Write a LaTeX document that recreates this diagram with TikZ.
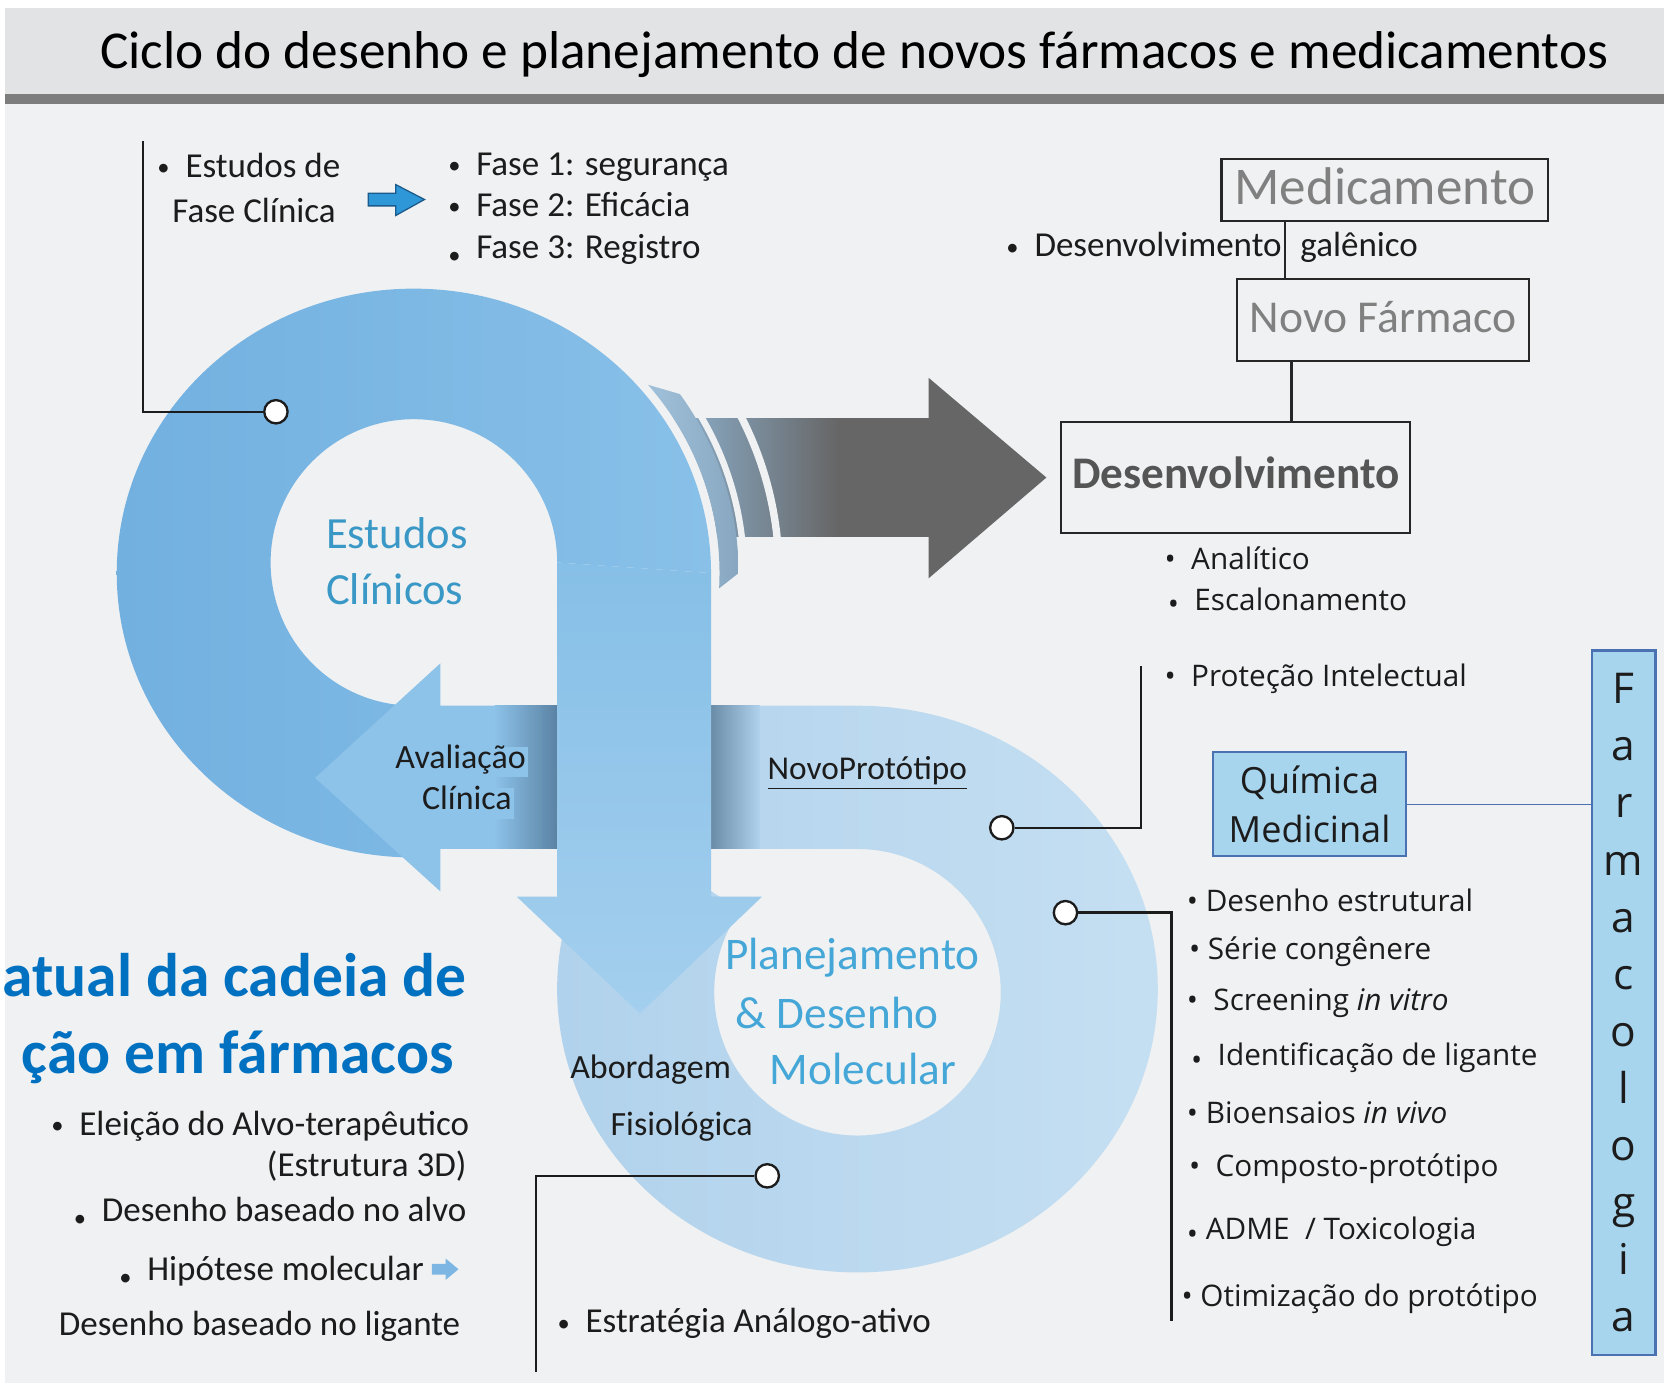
\documentclass[tikz,border=0pt]{standalone}
\usepackage{fontspec}
\setmainfont{Carlito}
\newfontfamily\tah{Open Sans}
\usetikzlibrary{calc}
\definecolor{bgc}{HTML}{F0F1F2}
\definecolor{bandc}{HTML}{E2E3E5}
\definecolor{bandl}{HTML}{7D7D7D}
\definecolor{ringAL}{HTML}{72B0E0}
\definecolor{ringAR}{HTML}{88C0E8}
\definecolor{shaftT}{HTML}{86BFE7}
\definecolor{shaftB}{HTML}{A4CFEE}
\definecolor{arrL}{HTML}{8DC2E9}
\definecolor{shadL}{HTML}{5A82A3}
\definecolor{ringBL}{HTML}{B1D2EC}
\definecolor{ringBR}{HTML}{C5DFF2}
\definecolor{shadR}{HTML}{6B8CA7}
\definecolor{stripeL}{HTML}{90B6D5}
\definecolor{darkc}{HTML}{666666}
\definecolor{estc}{HTML}{3A98C6}
\definecolor{planc}{HTML}{45A7D7}
\definecolor{bigblue}{HTML}{0070C0}
\definecolor{txtc}{HTML}{1C1C1C}
\definecolor{grayt}{HTML}{808080}
\definecolor{devt}{HTML}{555555}
\definecolor{qfill}{HTML}{A8D5EE}
\definecolor{qedge}{HTML}{4A72B2}
\definecolor{smallA}{HTML}{2E97D8}
\definecolor{smallE}{HTML}{1B5A8A}
\definecolor{smallB}{HTML}{7DB6E3}
\newcommand\fsz[2]{\fontsize{#1}{#2}\selectfont}
\newcommand\bu{\raisebox{0.1ex}{\scalebox{0.7}{•}}}
\newcommand\lb{\raisebox{-0.3ex}{\scalebox{0.7}{•}}}
\newcommand\lbt{\raisebox{-0.3ex}{•}}
\tikzset{
 lbl/.style={inner sep=0pt, text=txtc, text height=1.5ex, text depth=0.25ex},
 cal/.style={lbl, font=\fsz{16.5}{20}, yshift=-2.5pt},
 tahl/.style={lbl, font=\tah\fsz{14}{17}, yshift=-2.5pt},
 conn/.style={draw=txtc, line width=1.1pt},
 dot/.style={circle, draw=txtc, line width=1.1pt, fill=white, minimum size=11pt, inner sep=0pt},
 boxk/.style={draw=black!85, line width=1pt, inner sep=0pt},
 qbox/.style={draw=qedge, line width=1pt, fill=qfill, inner sep=0pt},
}
\begin{document}
\begin{tikzpicture}[x=0.5pt,y=-0.5pt]
\useasboundingbox (0,0) rectangle (1568,1310);
\clip (0,0) rectangle (1568,1310);
\fill[white] (0,0) rectangle (1568,1310);
\fill[bgc] (5,8) rectangle (1568,1303);
\fill[bandc] (5,8) rectangle (1568,89);
\fill[bandl] (5,89) rectangle (1568,98);
\node[lbl, font=\fsz{25.1}{30}, text=black, yshift=-5pt] (title) at (805,49) {Ciclo do desenho e planejamento de novos fármacos e medicamentos};

% dark arrow towards Desenvolvimento
\begin{scope}
\clip (600,394) rectangle (880,506);
\shade[left color=stripeL, right color=darkc] (620,394) rectangle (790,506);
\fill[darkc] (789,394) rectangle (880,506);
\fill[bgc] (390,540) ellipse[x radius=288, y radius=276];
\draw[bgc, line width=3pt] (390,540) ellipse[x radius=311, y radius=299];
\draw[bgc, line width=3.5pt] (390,540) ellipse[x radius=344, y radius=332];
\end{scope}
\shade[left color=stripeL!85!white, right color=stripeL!80!darkc] ($(390,540)+(-40:288 and 276)$) arc[start angle=-40, end angle=3, x radius=288, y radius=276] -- ($(390,540)+(0:306 and 294)$) arc[start angle=0, end angle=-35, x radius=306, y radius=294] -- cycle;
\fill[darkc] (875,356) -- (986,450) -- (875,545) -- cycle;

% lower ring with NovoPrototipo band
\shade[left color=ringBL, right color=ringBR] (670,665) -- (808,665) arc[start angle=270, end angle=575, x radius=283, y radius=267] -- ($(808,935)+(575:135)$) arc[start angle=575, end angle=270, radius=135] -- (670,800) -- cycle;
\shade[left color=shadR, right color=ringBL] (670,665) rectangle (716,800);

% upper ring
\shade[left color=ringAL, right color=ringAR] (390,808) arc[start angle=90, end angle=360, x radius=280, y radius=268] -- (525,530) arc[start angle=360, end angle=90, radius=135] -- cycle;

% left arrow
\fill[arrL] (525,665) -- (415,665) -- (415,625) -- (297,733) -- (415,840) -- (415,800) -- (525,800) -- cycle;
\shade[left color=arrL, right color=shadL] (466,665) rectangle (525,800);

% down arrow
\shade[top color=shaftT, bottom color=shaftB] (525,530) -- (670,540) -- (670,845) -- (718,845) -- (603,955) -- (487,845) -- (525,845) -- cycle;

% top-left texts
\node[cal, anchor=west] (et1) at (148,156) {\bu\ \ Estudos de};
\node[cal, anchor=west] (et2) at (162,199) {Fase Clínica};
\draw[fill=smallA, draw=smallE, line width=0.6pt] (347,182) -- (373,182) -- (373,174) -- (400,188) -- (373,203) -- (373,194) -- (347,194) -- cycle;
\node[cal, anchor=west] (fa1) at (422,154) {\bu\ \ Fase 1: segurança};
\node[cal, anchor=west] (fa2) at (422,193) {\bu\ \ Fase 2: Eficácia};
\node[cal, anchor=west] (fa3) at (422,233) {\lb\ \ Fase 3: Registro};

% top-right boxes
\node[boxk, minimum width=154pt, minimum height=29pt, text depth=4pt, text=grayt, font=\fsz{25}{30}] (med) at (1305,179) {Medicamento};
\node[boxk, minimum width=137.5pt, minimum height=38.5pt, text depth=3pt, text=grayt, font=\fsz{21.5}{26}] (nf) at (1303.5,301.5) {Novo Fármaco};
\node[boxk, minimum width=164.5pt, minimum height=52pt, text depth=5pt, text=devt, font=\bfseries\fsz{21.3}{26}] (dev) at (1164.5,450) {Desenvolvimento};
\coordinate (m1) at ([xshift=30.5pt]med.south west);
\draw[line width=1pt, draw=black!85] (m1) -- (m1 |- nf.north);
\coordinate (n1) at ([xshift=26pt]nf.south west);
\draw[line width=1pt, draw=black!85] (n1) -- (n1 |- dev.north);
\node[cal, anchor=west] (dg1) at (948,231) {\bu\ \ Desenvolvimento};
\node[cal, anchor=west] (dg2) at (1225,231) {galênico};
\node[tahl, anchor=west] (an1) at (1097,526) {•\ \ Analítico};
\node[tahl, anchor=west] (an2) at (1100,564) {\lbt\ \ Escalonamento};

% ring texts
\node[lbl, anchor=west, font=\fsz{21}{25}, text=estc, yshift=-3.5pt] (es1) at (307,504) {Estudos};
\node[lbl, anchor=west, font=\fsz{21}{25}, text=estc, yshift=-3.5pt] (es2) at (307,557) {Clínicos};
\node[lbl, font=\fsz{16}{19}, fill=arrL, inner xsep=1pt, inner ysep=3pt, yshift=-2.5pt] (av1) at (434,713) {Avaliação};
\node[lbl, font=\fsz{16}{19}, fill=arrL, inner xsep=1pt, inner ysep=3pt, yshift=-2.5pt] (av2) at (440,752) {Clínica};
\node[lbl, anchor=west, font=\fsz{15.7}{19}, yshift=-2.5pt] (np) at (723,724) {\underline{NovoProtótipo}};
\node[lbl, anchor=west, font=\fsz{21.3}{25}, text=planc, yshift=-4pt] (pl1) at (683,900) {Planejamento};
\node[lbl, anchor=west, font=\fsz{21.3}{25}, text=planc, yshift=-4pt] (pl2) at (693,955) {\& Desenho};
\node[lbl, anchor=west, font=\fsz{21.3}{25}, text=planc, yshift=-4pt] (pl3) at (725,1008) {Molecular};
\node[lbl, anchor=west, font=\fsz{16}{19}, yshift=-2.5pt] (ab1) at (537,1005) {Abordagem};
\node[lbl, anchor=west, font=\fsz{16}{19}, yshift=-2.5pt] (ab2) at (575,1059) {Fisiológica};

% connectors
\node[dot] (d1) at (260,388) {};
\coordinate (c1) at (135,133);
\draw[conn] (c1) |- (d1);
\node[dot] (d2) at (944,780) {};
\coordinate (c2) at (1075,628);
\draw[conn] (d2) -| (c2);
\node[dot] (d3) at (1004,860) {};
\coordinate (c3) at (1104,1245);
\draw[conn] (d3) -| (c3);
\node[dot] (d4) at (723,1108) {};
\coordinate (c4) at (505,1293);
\draw[conn] (d4) -| (c4);

% right lists
\node[tahl, anchor=west] (pi) at (1097,636) {•\ \ Proteção Intelectual};
\node[qbox, minimum width=91pt, minimum height=49pt, align=center, font=\tah\fsz{17}{23}, text=txtc] (qm) at (1234,758) {Química\\Medicinal};
\node[qbox, minimum width=30pt, minimum height=332pt, align=center, font=\tah\fsz{20}{26.9}, text=txtc] (farm) at (1530,945) {F\\a\\r\\m\\a\\c\\o\\l\\o\\g\\i\\a};
\draw[qedge, line width=0.8pt] (qm.east) -- (qm.east -| farm.west);
\node[tahl, anchor=west] (r1) at (1118,848) {• Desenho estrutural};
\node[tahl, anchor=west] (r2) at (1120,893) {•\ Série congênere};
\node[tahl, anchor=west] (r3) at (1118,941) {•\ \ Screening \textit{in vitro}};
\node[tahl, anchor=west] (r4) at (1122,993) {\lbt\ \ Identificação de ligante};
\node[tahl, anchor=west] (r5) at (1118,1048) {• Bioensaios \textit{in vivo}};
\node[tahl, anchor=west] (r6) at (1120,1098) {•\ \ Composto-protótipo};
\node[tahl, anchor=west] (r7) at (1118,1157) {\lbt\ ADME \ / Toxicologia};
\node[tahl, anchor=west] (r8) at (1113,1220) {•\ Otimização do protótipo};

% left bottom
\node[lbl, anchor=east, font=\bfseries\fsz{29}{34}, text=bigblue, yshift=-6pt] (bb1) at (440,921) {atual da cadeia de};
\node[lbl, anchor=east, font=\bfseries\fsz{29}{34}, text=bigblue, yshift=-6.5pt] (bb2) at (428,993) {ção em fármacos};
\node[cal, anchor=west] (e1) at (48,1059) {\bu\ \ Eleição do Alvo-terapêutico};
\node[cal, anchor=east] (e2) at (440,1098) {(Estrutura 3D)};
\node[cal, anchor=east] (e3) at (440,1140) {\lb\ \ Desenho baseado no alvo};
\node[cal, anchor=west] (e4) at (112,1196) {\lb\ \ Hipótese molecular};
\fill[smallB] (407,1191) -- (420,1191) -- (420,1186) -- (432,1196) -- (420,1206) -- (420,1201) -- (407,1201) -- cycle;
\node[cal, anchor=west] (e5) at (55,1247) {Desenho baseado no ligante};
\node[cal, anchor=west] (e6) at (525,1245) {\bu\ \ Estratégia Análogo-ativo};
\end{tikzpicture}
\end{document}
